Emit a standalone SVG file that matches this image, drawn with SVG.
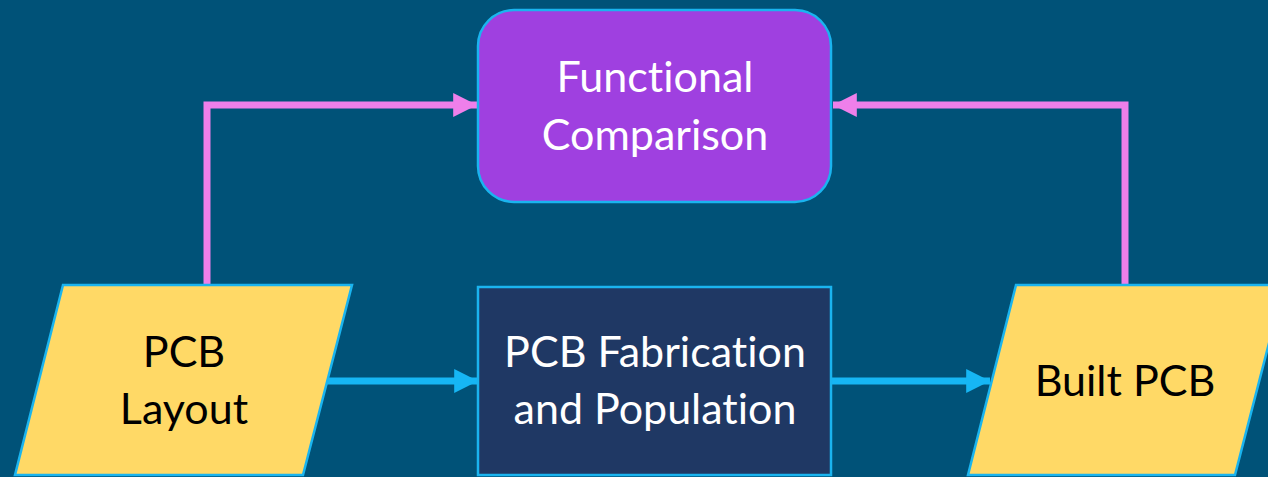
<svg xmlns="http://www.w3.org/2000/svg" width="1268" height="477" viewBox="0 0 1268 477">
<defs>
<style>
.lbl{font-family:Lato,"Liberation Sans",sans-serif;font-size:43px;text-anchor:middle;font-variant-ligatures:none;font-feature-settings:"liga" 0,"clig" 0}
.w{fill:#ffffff}
.k{fill:#000000}
.node{stroke:#1ab4ef;stroke-width:2.5}
.pink{fill:none;stroke:#ef7fea;stroke-width:7}
.blue{fill:none;stroke:#16b6f4;stroke-width:7}
</style>
<marker id="ap" viewBox="0 0 10 10" refX="10" refY="5" markerWidth="3.4" markerHeight="3.4" orient="auto" markerUnits="strokeWidth"><path d="M0,0 L10,5 L0,10 Z" fill="#ef7fea"/></marker>
<marker id="ab" viewBox="0 0 10 10" refX="10" refY="5" markerWidth="3.4" markerHeight="3.4" orient="auto" markerUnits="strokeWidth"><path d="M0,0 L10,5 L0,10 Z" fill="#16b6f4"/></marker>
</defs>
<rect width="1268" height="477" fill="#005278"/>
<g id="connectors">
<path class="pink" d="M207,286 V105 H477" marker-end="url(#ap)"/>
<path class="pink" d="M1125,286 V105 H833" marker-end="url(#ap)"/>
<path class="blue" d="M327,381 H478" marker-end="url(#ab)"/>
<path class="blue" d="M832,381 H990" marker-end="url(#ab)"/>
</g>
<g id="functional-comparison">
<rect class="node" x="478" y="10" width="353" height="192" rx="36" fill="#9f40e0"/>
<text class="lbl w" x="655" y="92">Functional</text>
<text class="lbl w" x="655" y="150">Comparison</text>
</g>
<g id="pcb-layout">
<polygon class="node" points="63,285 352,285 303,475 15,475" fill="#ffd966"/>
<text class="lbl k" x="184" y="367">PCB</text>
<text class="lbl k" x="184" y="424">Layout</text>
</g>
<g id="pcb-fabrication">
<rect class="node" x="478" y="287" width="353" height="188" fill="#1f3864"/>
<text class="lbl w" x="655" y="367">PCB Fabrication</text>
<text class="lbl w" x="655" y="424">and Population</text>
</g>
<g id="built-pcb">
<polygon class="node" points="1016,285 1284,285 1235,475 968,475" fill="#ffd966"/>
<text class="lbl k" x="1125" y="396">Built PCB</text>
</g>
</svg>
